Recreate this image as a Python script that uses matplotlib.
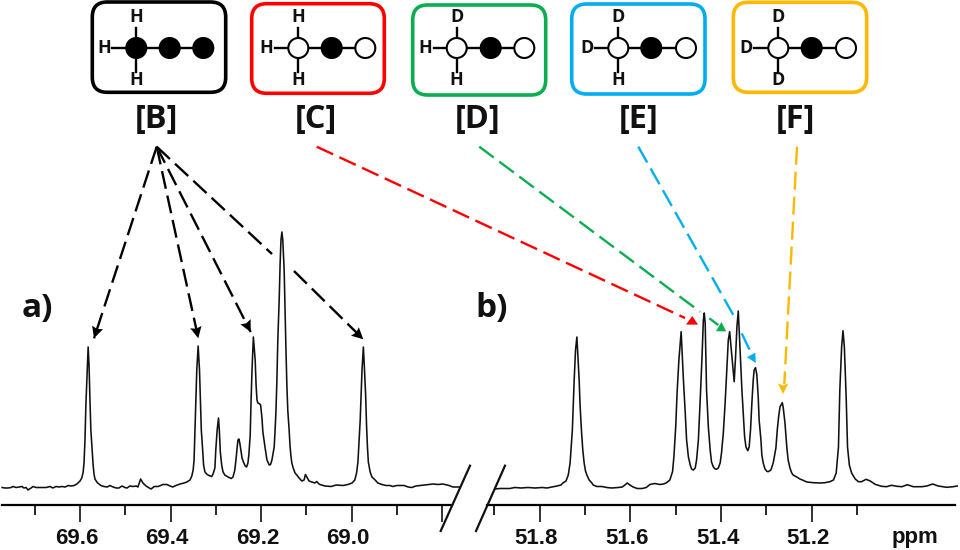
import matplotlib
matplotlib.use("Agg")
import matplotlib.pyplot as plt
from matplotlib.patches import FancyBboxPatch, Circle, Polygon
from matplotlib.transforms import ScaledTranslation
import numpy as np

plt.rcParams["lines.scale_dashes"] = False

# spectrum a): shift in ppm, height above the axis
ppm_a = [69.772, 69.766, 69.759, 69.752, 69.748, 69.741, 69.735, 69.728, 69.724, 69.719, 69.715, 69.708,
         69.704, 69.697, 69.686, 69.675, 69.666, 69.660, 69.653, 69.646, 69.640, 69.633, 69.626, 69.620,
         69.613, 69.607, 69.600, 69.596, 69.593, 69.591, 69.589, 69.587, 69.584, 69.582, 69.580, 69.578,
         69.576, 69.573, 69.571, 69.569, 69.567, 69.562, 69.558, 69.554, 69.547, 69.540, 69.534, 69.527,
         69.520, 69.514, 69.507, 69.501, 69.496, 69.490, 69.483, 69.476, 69.472, 69.466, 69.461, 69.454,
         69.447, 69.443, 69.436, 69.428, 69.423, 69.417, 69.408, 69.401, 69.395, 69.388, 69.379, 69.370,
         69.364, 69.357, 69.353, 69.350, 69.348, 69.346, 69.344, 69.342, 69.339, 69.336, 69.334, 69.332,
         69.329, 69.327, 69.324, 69.319, 69.315, 69.309, 69.306, 69.302, 69.300, 69.297, 69.294, 69.292,
         69.290, 69.287, 69.284, 69.280, 69.273, 69.266, 69.262, 69.258, 69.255, 69.253, 69.251, 69.249,
         69.247, 69.244, 69.242, 69.239, 69.235, 69.232, 69.229, 69.227, 69.224, 69.222, 69.220, 69.217,
         69.213, 69.211, 69.209, 69.207, 69.203, 69.201, 69.198, 69.196, 69.191, 69.187, 69.182, 69.179,
         69.176, 69.171, 69.169, 69.167, 69.165, 69.163, 69.160, 69.158, 69.156, 69.154, 69.152, 69.149,
         69.147, 69.145, 69.143, 69.141, 69.138, 69.136, 69.134, 69.132, 69.129, 69.125, 69.121, 69.116,
         69.110, 69.105, 69.102, 69.099, 69.094, 69.088, 69.081, 69.077, 69.072, 69.070, 69.059, 69.045,
         69.034, 69.019, 69.008, 68.999, 68.993, 68.989, 68.986, 68.984, 68.981, 68.979, 68.977, 68.974,
         68.972, 68.969, 68.967, 68.965, 68.963, 68.959, 68.955, 68.948, 68.942, 68.933, 68.924, 68.915,
         68.909, 68.900, 68.893, 68.884, 68.875, 68.867, 68.858, 68.838, 68.820, 68.809, 68.798, 68.785,
         68.776, 68.767, 68.761]
int_a = [17.5, 17, 17, 17.5, 18.5, 17.5, 18, 18.5, 17, 17.5, 15, 17,
         18.5, 17.5, 17.5, 17.5, 18.5, 17, 18.5, 18, 18.5, 18, 19.5, 19,
         19.5, 21, 24, 27, 33, 43, 65, 100, 135, 158, 140, 105,
         75, 53, 40, 31, 26, 22.5, 21, 19.5, 18.5, 18, 19.5, 18,
         17, 17, 19, 17.5, 17, 19, 18.5, 19, 18, 26, 22, 19,
         17, 16, 18.5, 18.5, 19.3, 20.5, 20.5, 19, 18, 19.5, 21, 22,
         23, 25, 29, 35, 45, 75, 105, 135, 159, 135, 105, 75,
         55, 40, 33, 30.5, 29.5, 28.5, 31, 37, 55, 75, 87, 73,
         53, 40, 33, 30, 28, 26.5, 28, 35, 47, 57, 65, 66,
         62, 53, 47, 43, 39, 38, 42, 50, 70, 105, 135, 168,
         145, 120, 105, 102, 101, 100, 87, 73, 57, 45, 40, 40.5,
         45, 58, 75, 95, 125, 165, 205, 240, 265, 273, 265, 235,
         195, 155, 120, 95, 75, 59, 49, 42, 37, 32, 30, 27,
         24, 25, 30.5, 28, 24, 23, 22, 23.5, 21, 20.5, 19, 18.5,
         20, 19.5, 20.5, 22, 25, 32, 43, 60, 85, 110, 135, 158,
         140, 110, 80, 58, 43, 33, 28, 25, 22, 20.5, 19.5, 19.5,
         18.5, 19.5, 19.5, 19.5, 18, 17.5, 19, 20, 21, 20.5, 21, 19.5,
         18, 18, 18]

# spectrum b)
ppm_b = [51.899, 51.888, 51.877, 51.866, 51.855, 51.841, 51.826, 51.810, 51.795, 51.784, 51.773, 51.762,
         51.753, 51.749, 51.742, 51.737, 51.733, 51.728, 51.724, 51.721, 51.718, 51.716,
         51.713, 51.711, 51.708, 51.705, 51.702, 51.699, 51.696, 51.691, 51.685, 51.682, 51.674,
         51.663, 51.652, 51.641, 51.627, 51.618, 51.612, 51.607, 51.601, 51.594, 51.585, 51.574, 51.565,
         51.557, 51.546, 51.535, 51.527, 51.520, 51.513, 51.507, 51.504, 51.500, 51.497, 51.493, 51.488,
         51.483, 51.479, 51.476, 51.472, 51.468, 51.465, 51.461, 51.457, 51.454, 51.450, 51.446, 51.442,
         51.439, 51.437, 51.435, 51.432, 51.428, 51.424, 51.421, 51.417, 51.413, 51.410, 51.406, 51.402,
         51.399, 51.395, 51.391, 51.387, 51.384, 51.381, 51.378, 51.374, 51.371, 51.368, 51.365, 51.362,
         51.360, 51.357, 51.354, 51.351, 51.348, 51.345, 51.341, 51.338, 51.335, 51.332, 51.329, 51.327,
         51.324, 51.321, 51.318, 51.316, 51.312, 51.310, 51.307, 51.303, 51.299, 51.296, 51.290, 51.285,
         51.279, 51.276, 51.273, 51.270, 51.265, 51.263, 51.259, 51.255, 51.252, 51.248, 51.244, 51.241,
         51.233, 51.226, 51.219, 51.211, 51.196, 51.182, 51.171, 51.160, 51.152, 51.146, 51.141, 51.138,
         51.134, 51.131, 51.128, 51.124, 51.121, 51.117, 51.112, 51.104, 51.097, 51.090, 51.080, 51.071,
         51.060, 51.046, 51.035, 51.024, 51.012, 51.001, 50.989, 50.976, 50.957, 50.946, 50.933, 50.921,
         50.902, 50.888, 50.879]
int_b = [16, 16.5, 16.5, 16.5, 17.5, 17, 17.5, 17, 17.5, 17, 18, 19,
         20, 22, 24, 30, 42, 75, 125, 155, 168, 150,
         125, 100, 75, 55, 42, 34, 30, 25, 22, 20, 18.5,
         18.5, 17.5, 17, 17.5, 18, 20, 22, 20, 18, 16.5, 16.5, 17.5,
         20.5, 21.5, 20.5, 21, 22.3, 25, 33.3, 48.3, 78.3, 112, 145, 173.3,
         125, 92, 65, 48, 40, 36, 35, 37, 45, 65, 105, 148,
         185, 192, 182, 115, 78, 55, 43, 38, 36, 35.7, 37, 42,
         52, 72, 102, 138, 165, 173.3, 158, 137, 123.3, 148, 178, 194,
         175, 145, 115, 92, 68, 58, 54.3, 58, 75, 102, 125, 135,
         137.3, 130, 108, 85, 65, 50, 42, 36, 33.7, 33.3, 35, 42,
         57, 75, 88, 98, 102.3, 98, 82, 58, 45, 37, 32, 30,
         28, 26, 24.7, 23, 22.3, 22, 22.3, 23.3, 25, 32, 58, 115,
         158, 174.3, 158, 108, 58, 40, 32, 26, 23.3, 23.3, 25.7, 24,
         20.7, 18.7, 18.3, 19.7, 18.7, 18.3, 20.3, 18.3, 18.3, 19, 21, 19,
         17.7, 18.3, 19]

major_a = [69.6, 69.4, 69.2, 69.0, 68.8]
labels_a = ["69.6", "69.4", "69.2", "69.0", ""]
minor_a = [69.7, 69.5, 69.3, 69.1, 68.9]
major_b = [51.8, 51.6, 51.4, 51.2]
labels_b = ["51.8", "51.6", "51.4", "51.2"]
minor_b = [51.9, 51.7, 51.5, 51.3, 51.1]

species = ["[B]", "[C]", "[D]", "[E]", "[F]"]
substituents = [["H", "H", "H"], ["H", "H", "H"], ["D", "H", "H"], ["D", "D", "H"], ["D", "D", "D"]]
box_colors = ["black", "#ff0000", "#0aad4f", "#00aeef", "#ffb800"]

W, H = 960, 550
fig = plt.figure(figsize=(9.6, 5.5), dpi=100)


def spectrum_axes(x0, x1, left, right, ppm, inten, major, labels, minor, end):
    ax = fig.add_axes([x0 / W, 1 - 505 / H, (x1 - x0) / W, 280 / H])
    ax.plot(ppm, inten, color="#111111", lw=1.15, clip_on=False)
    ax.set_xlim(left, right)
    ax.set_ylim(0, 280)
    ax.patch.set_alpha(0)
    for s in ["top", "left", "right"]:
        ax.spines[s].set_visible(False)
    ax.spines["bottom"].set_linewidth(1.6)
    ax.spines["bottom"].set_bounds(left, end)
    ax.set_yticks([])
    ax.set_xticks(major, labels, family="Liberation Sans", fontweight="bold", fontsize=16)
    ax.set_xticks(minor, minor=True)
    ax.tick_params(axis="x", which="major", length=12, width=1.2, pad=4.5, colors="#111111")
    ax.tick_params(axis="x", which="minor", length=7.2, width=1.2)
    # the printed labels sit a little left of their ticks
    shift = ScaledTranslation(-3.5 / 100, 0, fig.dpi_scale_trans)
    for lab in ax.get_xticklabels():
        lab.set_transform(lab.get_transform() + shift)
    return ax


spectrum_axes(2, 452, 69.7723, 68.7782, ppm_a, int_a, major_a, labels_a, minor_a, 68.7782)
spectrum_axes(487, 958, 51.9163, 50.8773, ppm_b, int_b, major_b, labels_b, minor_b, 50.884)

# overlay in picture coordinates for the schemes and arrows
ov = fig.add_axes([0, 0, 1, 1])
ov.set_xlim(0, W)
ov.set_ylim(H, 0)
ov.axis("off")
ov.patch.set_alpha(0)

boxes = [(92.3, 2, 225.7, 92.3), (251.7, 3.7, 384.3, 93.3), (412.7, 5, 545.7, 95),
         (571.7, 4, 705, 94), (733.3, 2.3, 866.7, 92.3)]
atom_x = [(136.3, 169.7, 203.3), (298.3, 331.7, 365.3), (456.7, 490.7, 524.3),
          (618.3, 651.3, 686), (778.3, 811.7, 846)]
left_x = [104.3, 266.7, 425.7, 586.7, 746]
bracket_x = [156.7, 316, 478, 638.3, 795.7]
atom_fill = [("black", "black", "black")] + [("white", "black", "white")] * 4

for i in range(5):
    x0, y0, x1, y1 = boxes[i]
    ov.add_patch(FancyBboxPatch((x0 + 15, y0 + 15), x1 - x0 - 30, y1 - y0 - 30,
                                boxstyle="round,pad=15,rounding_size=15", fc="white",
                                ec=box_colors[i], lw=2.6))
    a, b, c = atom_x[i]
    ov.plot([a, c], [48, 48], color="black", lw=1.7, zorder=3)
    ov.plot([a, a], [28, 71.5], color="black", lw=1.7, zorder=3)
    ov.plot([left_x[i] + 8, a], [48, 48], color="black", lw=1.7, zorder=3)
    for xc, fc in zip(atom_x[i], atom_fill[i]):
        ov.add_patch(Circle((xc, 48), 10, fc=fc, ec="black", lw=1.5, zorder=4))
    top, lft, bot = substituents[i]
    atom_font = dict(family="Open Sans", fontweight="bold", fontsize=13, ha="center", va="center", color="#111111")
    ov.text(a, 17.5, top, **atom_font)
    ov.text(left_x[i], 48, lft, **atom_font)
    ov.text(a, 80, bot, **atom_font)
    ov.text(bracket_x[i], 119, species[i], family="Open Sans", fontweight="bold", fontsize=23.5,
            ha="center", va="center", color="#111111")

ov.text(37, 309, "a)", family="Open Sans", fontweight="bold", fontsize=24, ha="center", va="center", color="#111111")
ov.text(492, 309, "b)", family="Open Sans", fontweight="bold", fontsize=24, ha="center", va="center", color="#111111")
ov.text(915, 537, "ppm", family="Liberation Sans", fontweight="bold", fontsize=16, ha="center", va="center", color="#111111")

# break marks on the axis
ov.plot([470, 440.7], [465.7, 531], color="#111111", lw=1.6)
ov.plot([505, 476], [465.7, 531], color="#111111", lw=1.6)


def dashed(x, y, color):
    ov.plot(x, y, color=color, lw=1.7, linestyle=(0, (13, 5)))


def head(tip, start, color, size=11.5):
    t = np.array(tip, float)
    d = t - np.array(start, float)
    d = d / np.hypot(*d)
    n = np.array([-d[1], d[0]])
    pts = [t, t - size * d + 0.5 * size * n, t - 0.85 * size * d, t - size * d - 0.5 * size * n]
    ov.add_patch(Polygon(pts, closed=True, fc=color, ec="none", zorder=5))


origin = (156.7, 146.7)
for tip in [(94, 338.3), (198.3, 338.3), (250.7, 332)]:
    dashed([origin[0], tip[0]], [origin[1], tip[1]], "black")
    head(tip, origin, "black")
dashed([origin[0], 272], [origin[1], 254], "black")
dashed([294, 363.3], [271, 339.3], "black")
head((363.3, 339.3), origin, "black")

dashed([316.7, 685], [146.7, 318], "#ff0000")
ov.add_patch(Polygon([(692.3, 316), (686, 324.6), (698, 324.6)], fc="#ff0000", ec="none"))
dashed([479.3, 700], [146.7, 311.7], "#0aad4f")
dashed([709.3, 718.3], [318.3, 325], "#0aad4f")
ov.add_patch(Polygon([(726.2, 331.4), (721.5, 322), (716, 331.2)], fc="#0aad4f", ec="none"))
dashed([638.3, 734.3], [146.7, 316.7], "#00aeef")
dashed([741.7, 750], [333.3, 350.7], "#00aeef")
ov.add_patch(Polygon([(755.8, 363), (755.3, 352.6), (747, 357.2)], fc="#00aeef", ec="none"))
dashed([797, 784.3], [146.7, 384], "#ffb800")
ov.add_patch(Polygon([(783, 394), (778, 383.5), (783, 385.5), (788.3, 383.5)], fc="#ffb800", ec="none"))

fig.savefig("out.png", dpi=100)
